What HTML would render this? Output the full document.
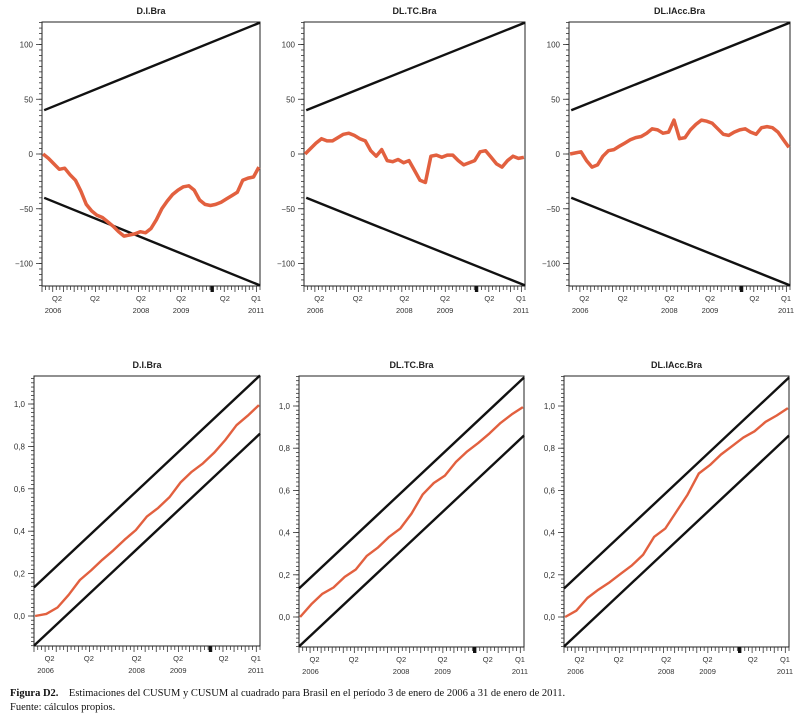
<!DOCTYPE html>
<html><head><meta charset="utf-8">
<style>
body{margin:0;background:#fff;width:808px;height:720px;overflow:hidden;font-family:"Liberation Sans",sans-serif}
svg{position:absolute;left:0;top:0}
.cap{position:absolute;left:10px;font-family:"Liberation Serif",serif;font-size:10.5px;color:#111}
</style></head><body>
<svg id="chart" width="808" height="720"></svg>
<div class="cap" style="top:688px"><b>Figura D2.</b>&nbsp;&nbsp;&nbsp; Estimaciones del CUSUM y CUSUM al cuadrado para Brasil en el período 3 de enero de 2006 a 31 de enero de 2011.</div>
<div class="cap" style="top:702px">Fuente: cálculos propios.</div>
<script>
const titles = ["D.I.Bra","DL.TC.Bra","DL.IAcc.Bra"];
const xTickLabels = ["Q2","Q2","Q2","Q2","Q2","Q1"];
const xYearLabels = ["2006","","2008","2009","","2011"];
const xTickFracs = [0.069,0.243,0.454,0.638,0.839,0.982];
const cusumTicks = [100,50,0,-50,-100];
const cusumsqTicks = [1.0,0.8,0.6,0.4,0.2,0.0];
const cusumBoundStart = [40,-40];
const cusumBoundEnd = [120,-120];
const sqBoundStart = [0.135,-0.14];
const sqBoundEnd = [1.135,0.86];
const cusumDI = [0,-4,-9,-14,-13,-19,-24,-34,-46,-52,-56,-58,-62,-66,-71,-75,-74,-73,-71,-72,-68,-60,-50,-43,-37,-33,-30,-29,-33,-42,-46,-47,-46,-44,-41,-38,-35,-24,-22,-21,-12];
const cusumTC = [0,5,10,14,12,12,15,18,19,17,14,12,3,-2,4,-6,-7,-5,-8,-6,-15,-24,-26,-2,-1,-3,-1,-1,-6,-10,-8,-6,2,3,-3,-9,-12,-6,-2,-4,-3];
const cusumIAcc = [0,1,2,-6,-12,-10,-2,3,4,7,10,13,15,16,19,23,22,19,20,31,14,15,22,27,31,30,28,23,18,17,20,22,23,20,18,24,25,24,20,13,6];
const sqDI = [0,0.01,0.04,0.1,0.17,0.215,0.265,0.31,0.36,0.405,0.47,0.51,0.56,0.63,0.68,0.72,0.77,0.83,0.9,0.945,0.995];
const sqTC = [0,0.06,0.11,0.14,0.19,0.225,0.29,0.33,0.38,0.42,0.49,0.58,0.635,0.67,0.735,0.785,0.825,0.87,0.92,0.96,0.995];
const sqIAcc = [0,0.03,0.09,0.13,0.165,0.205,0.245,0.295,0.38,0.42,0.5,0.58,0.68,0.72,0.77,0.81,0.85,0.88,0.925,0.955,0.99];

const NS="http://www.w3.org/2000/svg";
const svg=document.getElementById('chart');
function mk(tag,attrs,parent){const e=document.createElementNS(NS,tag);for(const k in attrs)e.setAttribute(k,attrs[k]);(parent||svg).appendChild(e);return e;}

const panels=[
 {x0:42,x1:260,top:22,bot:286,y0v:154,scale:1.095,kind:'c',series:cusumDI,t:0},
 {x0:304,x1:525,top:22,bot:286,y0v:154,scale:1.095,kind:'c',series:cusumTC,t:1},
 {x0:569,x1:790,top:22,bot:286,y0v:154,scale:1.095,kind:'c',series:cusumIAcc,t:2},
 {x0:34,x1:260,top:376,bot:646,y0v:616,scale:212,kind:'s',series:sqDI,t:0},
 {x0:299,x1:524,top:376,bot:647,y0v:617,scale:211,kind:'s',series:sqTC,t:1},
 {x0:564,x1:789,top:376,bot:647,y0v:617,scale:211,kind:'s',series:sqIAcc,t:2}
];
panels.forEach((p,pi)=>{
 const g=mk('g',{});
 
 
 const xs=f=>p.x0+f*(p.x1-p.x0);
 const ys=v=>p.y0v-v*p.scale;
 const t=mk('text',{x:(p.x0+p.x1)/2,y:p.top-8,'text-anchor':'middle','font-size':'9','font-weight':'bold',fill:'#222'},g);
 t.textContent=titles[p.t];
 
 
 // frame
 const fr=mk('rect',{x:p.x0,y:p.top,width:p.x1-p.x0,height:p.bot-p.top,fill:'none',stroke:'#222','stroke-width':'1'},g);
 
 
 // y minor ticks
 const step=p.kind==='c'?5:0.02;
 const vmax=(p.y0v-p.top)/p.scale, vmin=(p.y0v-p.bot)/p.scale;
 for(let v=Math.ceil(vmin/step)*step;v<=vmax+1e-9;v+=step){
   const y=ys(v);mk('line',{x1:p.x0-3,x2:p.x0,y1:y,y2:y,stroke:'#333','stroke-width':'0.8'},g);
 }
 const ticks=p.kind==='c'?cusumTicks:cusumsqTicks;
 ticks.forEach(v=>{
   const y=ys(v);
   mk('line',{x1:p.x0-6,x2:p.x0,y1:y,y2:y,stroke:'#333','stroke-width':'0.8'},g);
   const tx=mk('text',{x:p.x0-9,y:y+3,'text-anchor':'end','font-size':'8',fill:'#333'},g);
   tx.textContent=p.kind==='c'?(v<0?'\u2212'+(-v):String(v)):v.toFixed(1).replace('.',',');
   
   
 });
 // x ticks monthly
 for(let m=0;m<=61;m++){
   const x=xs(m/61);
   mk('line',{x1:x,x2:x,y1:p.bot,y2:p.bot+(m%3===0?6:4),stroke:'#333','stroke-width':'0.8'},g);
 }
 mk('rect',{x:xs(0.78)-1.5,y:p.bot,width:3,height:6,fill:'#111'},g);
 xTickLabels.forEach((l,i)=>{
   const x=xs(xTickFracs[i]);
   const a=mk('text',{x:x,y:p.bot+15,'text-anchor':'middle','font-size':'7.5',fill:'#333'},g);
   a.textContent=l;
   
   
   if(xYearLabels[i]){
     const b=mk('text',{x:x+(i===0?-4:0),y:p.bot+27,'text-anchor':'middle','font-size':'7.5',fill:'#333'},g);
     b.textContent=xYearLabels[i];
     
     
   }
 });
 // bounds
 const bs=p.kind==='c'?cusumBoundStart:sqBoundStart, be=p.kind==='c'?cusumBoundEnd:sqBoundEnd;
 const xStart=p.kind==='c'?xs(0.01):xs(0);
 for(let k=0;k<2;k++){
   const l=mk('line',{x1:xStart,y1:ys(bs[k]),x2:xs(1),y2:ys(be[k]),stroke:'#111','stroke-width':'2.4'},g);
   
   
 }
 // series
 const s=p.series, n=s.length;
 const d=s.map((v,i)=>(i?'L':'M')+xs(0.005+0.99*i/(n-1)).toFixed(1)+' '+ys(v).toFixed(1)).join(' ');
 const path=mk('path',{d:d,fill:'none',stroke:'#e2603f','stroke-width':p.kind==='c'?'3.5':'2.4','stroke-linejoin':'round'},g);
 
 
});
</script>
</body></html>
